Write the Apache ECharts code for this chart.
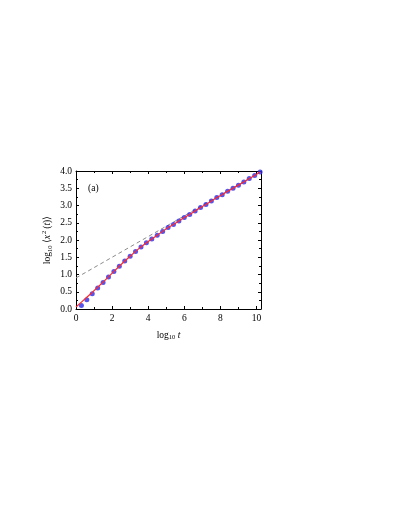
<!DOCTYPE html>
<html><head><meta charset="utf-8">
<script src="https://cdn.jsdelivr.net/npm/echarts@6/dist/echarts.min.js"></script>
<style>html,body{margin:0;padding:0;background:#fff}#c{width:399px;height:516px}</style>
</head><body><div id="c"></div>
<script>
const dotX = [0.3,0.6,0.9,1.2,1.5,1.8,2.1,2.4,2.7,3.0,3.3,3.6,3.9,4.2,4.5,4.8,5.1,5.4,5.7,6.0,6.3,6.6,6.9,7.2,7.5,7.8,8.1,8.4,8.7,9.0,9.3,9.6,9.9,10.2];
const dotY = [0.10,0.27,0.44,0.61,0.77,0.93,1.09,1.24,1.39,1.53,1.67,1.80,1.92,2.03,2.14,2.25,2.36,2.45,2.55,2.65,2.74,2.84,2.94,3.03,3.13,3.23,3.31,3.41,3.50,3.59,3.68,3.78,3.87,3.97];
const fitX = [0,0.3,0.6,0.9,1.2,1.5,1.8,2.1,2.4,2.7,3.0,3.3,3.6,3.9,4.2,4.5,4.8,5.1,5.4,5.7,6.0,6.3,6.6,6.9,7.2,7.5,7.8,8.1,8.4,8.7,9.0,9.3,9.6,9.9,10.2];
const fitY = [0.06,0.20,0.34,0.48,0.63,0.78,0.93,1.09,1.24,1.39,1.53,1.67,1.80,1.92,2.03,2.14,2.25,2.36,2.45,2.55,2.65,2.74,2.84,2.94,3.03,3.13,3.23,3.31,3.41,3.50,3.59,3.68,3.78,3.87,3.97];
const asymX = [0, 10.2];
const asymY = [0.90, 3.96];
const xTicks = [0,2,4,6,8,10];
const yTicks = [0.0,0.5,1.0,1.5,2.0,2.5,3.0,3.5,4.0];

const F = 'Liberation Serif';
const zip = (a,b)=>a.map((v,i)=>[v,b[i]]);
const chart = echarts.init(document.getElementById('c'));
const tickStyle = {show:true, inside:true, length:3, lineStyle:{color:'#000', width:1}};
const minor = {show:true, splitNumber:2, length:2, lineStyle:{color:'#000', width:1}};
chart.setOption({
  animation:false,
  grid:{left:76, right:138, top:171, bottom:207},
  xAxis:[{
    type:'value', min:0, max:10.25, interval:2,
    axisLine:{show:true, onZero:false, lineStyle:{color:'#000', width:1}},
    axisTick:tickStyle, minorTick:minor, splitLine:{show:false},
    axisLabel:{fontFamily:F, fontSize:9.5, color:'#000', margin:4,
      formatter:v=>xTicks.includes(v)?String(v):'', showMaxLabel:false},
    name:'{a|log}{s|10}{a| }{i|t}', nameLocation:'middle', nameGap:20,
    nameTextStyle:{rich:{
      a:{fontFamily:F,fontSize:9.5,color:'#000'},
      s:{fontFamily:F,fontSize:6.5,color:'#000',padding:[5,0,0,0]},
      i:{fontFamily:F,fontSize:9.5,fontStyle:'italic',color:'#000'}}}
  },{
    type:'value', position:'top', min:0, max:10.25, interval:2,
    axisLine:{show:true, onZero:false, lineStyle:{color:'#000', width:1}},
    axisTick:tickStyle, minorTick:minor, splitLine:{show:false}, axisLabel:{show:false}
  }],
  yAxis:[{
    type:'value', min:0, max:4, interval:0.5,
    axisLine:{show:true, onZero:false, lineStyle:{color:'#000', width:1}},
    axisTick:tickStyle, minorTick:minor, splitLine:{show:false},
    axisLabel:{fontFamily:F, fontSize:9.5, color:'#000', margin:4, formatter:v=>v.toFixed(1)},
    name:'{a|log}{s|10}{a| \u27E8}{i|x}{p|2}{a|(}{i|t}{a|)\u27E9}', nameLocation:'middle', nameGap:22, nameRotate:90,
    nameTextStyle:{rich:{
      a:{fontFamily:F,fontSize:9.5,color:'#000'},
      i:{fontFamily:F,fontSize:9.5,fontStyle:'italic',color:'#000'},
      s:{fontFamily:F,fontSize:6.5,color:'#000',padding:[5,0,0,0]},
      p:{fontFamily:F,fontSize:6.5,color:'#000',padding:[0,2,6,1]}}}
  },{
    type:'value', position:'right', min:0, max:4, interval:0.5,
    axisLine:{show:true, onZero:false, lineStyle:{color:'#000', width:1}},
    axisTick:tickStyle, minorTick:minor, splitLine:{show:false}, axisLabel:{show:false}
  }],
  graphic:[{type:'text', left:88, top:183, style:{text:'(a)', font:'9.5px "Liberation Serif"', fill:'#000'}}],
  series:[
    {type:'line', data:zip(asymX,asymY), symbol:'none', z:1,
     lineStyle:{color:'#8a8a8a', width:1, type:[4,3]}},
    {type:'scatter', data:zip(dotX,dotY), symbol:'circle', symbolSize:5, z:2,
     itemStyle:{color:'#2a2ae8'}},
    {type:'line', data:zip(fitX,fitY), symbol:'none', z:3,
     lineStyle:{color:'#ff2a2a', width:1.2}}
  ]
});
</script></body></html>
